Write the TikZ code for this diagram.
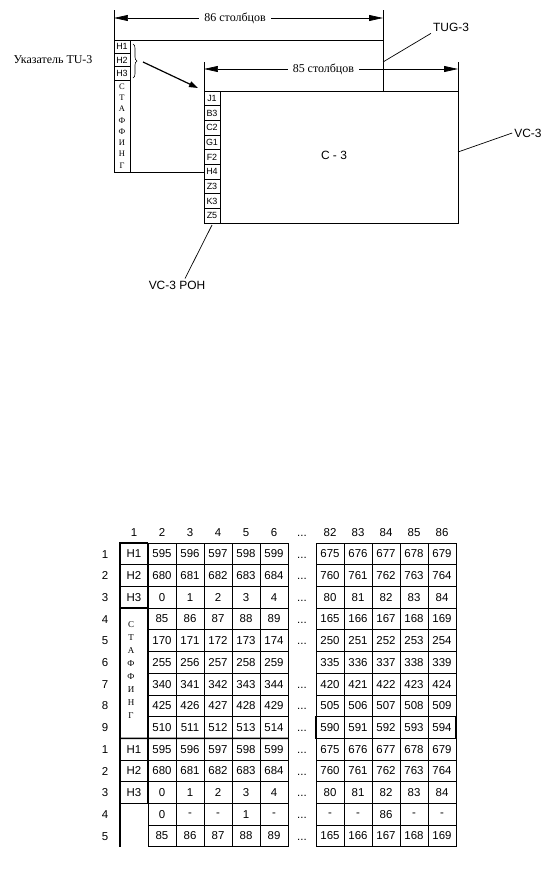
\documentclass[tikz,border=0pt]{standalone}
\usepackage{fontspec}
\setmainfont{Liberation Serif}
\setsansfont{Liberation Sans}
\usetikzlibrary{arrows.meta,positioning,decorations.pathreplacing}
\tikzset{
  boxframe/.style={
    draw,
    line width=0.8pt,
    inner sep=0pt,
    outer sep=0pt
  },
  poh/.style={
    draw,
    line width=0.8pt,
    minimum width=16bp,
    minimum height=14.67bp,
    inner sep=0pt,
    outer sep=0pt,
    font=\sffamily\fontsize{9}{10}\selectfont
  },
  ptr/.style={
    poh,
    minimum height=13.33bp
  },
  caption/.style={
    font=\sffamily\fontsize{12}{14}\selectfont,
    inner sep=2pt
  },
  cyrlabel/.style={
    font=\fontsize{12}{14}\selectfont,
    inner sep=2pt
  },
  stuffing/.style={
    font=\fontsize{8.5}{11.3}\selectfont,
    align=center,
    inner sep=0pt
  },
  dimline/.style={
    {Triangle[length=14pt,width=6pt]}-{Triangle[length=14pt,width=6pt]},
    line width=0.7pt
  },
  extline/.style={line width=0.7pt},
  leaderline/.style={line width=0.7pt},
  arrow/.style={
    -{Triangle[length=9pt,width=6pt]},
    line width=1.2pt
  },
  tcell/.style={
    draw,
    line width=0.7pt,
    minimum width=28bp,
    minimum height=21.7bp,
    inner sep=0pt,
    outer sep=0pt,
    font=\sffamily\fontsize{11.5}{13}\selectfont
  },
  colhead/.style={
    font=\sffamily\fontsize{11.5}{13}\selectfont,
    text height=8.3bp,
    text depth=0bp,
    inner sep=0pt
  },
  thick rule/.style={line width=1.4pt}
}

\begin{document}
\begin{tikzpicture}[x=1bp, y=-1bp]
  \useasboundingbox (0,0) rectangle (552,871);

  % TUG-3 and VC-3 frames
  \node[boxframe, minimum width=269bp, minimum height=132bp] (tugbox) at (248.5,106) {};
  \node[boxframe, fill=white, minimum width=254bp, minimum height=132bp] (vcbox) at (331,157) {};
  \node[caption] (c3) at (334,155) {C - 3};

  % TU-3 pointer + stuffing
  \node[ptr, anchor=north west] (h1) at (tugbox.north west) {H1};
  \node[ptr, below=0pt of h1] (h2) {H2};
  \node[ptr, below=0pt of h2] (h3) {H3};
  \node[ptr, below=0pt of h3, minimum height=92bp] (stuff) {};
  \node[stuffing] (stufftxt) at (stuff) {С\\Т\\А\\Ф\\Ф\\И\\Н\\Г};

  % VC-3 POH column
  \node[poh, anchor=north west] (j1) at (vcbox.north west) {J1};
  \node[poh, below=0pt of j1] (b3) {B3};
  \node[poh, below=0pt of b3] (c2) {C2};
  \node[poh, below=0pt of c2] (g1) {G1};
  \node[poh, below=0pt of g1] (f2) {F2};
  \node[poh, below=0pt of f2] (h4) {H4};
  \node[poh, below=0pt of h4] (z3) {Z3};
  \node[poh, below=0pt of z3] (k3) {K3};
  \node[poh, below=0pt of k3] (z5) {Z5};

  \node[cyrlabel] (tu3) at (53,60) {Указатель TU-3};
  \node[caption] (tug) at (451,27) {TUG-3};
  \node[caption] (vc3) at (528,133) {VC-3};
  \node[caption] (vcpoh) at (177,285) {VC-3 POH};

  % dimensions
  \draw[extline] (tugbox.north west) -- ++(0,-30);
  \draw[extline] (tugbox.north east) -- ++(0,-30);
  \draw[dimline] ([yshift=22bp]tugbox.north west) -- ([yshift=22bp]tugbox.north east)
    node[cyrlabel, pos=0.45, fill=white, inner xsep=5pt] (d86) {86 столбцов};
  \draw[extline] (vcbox.north west) -- ++(0,-29);
  \draw[extline] (vcbox.north east) -- ++(0,-29);
  \draw[dimline] ([yshift=22bp]vcbox.north west) -- ([yshift=22bp]vcbox.north east)
    node[cyrlabel, pos=0.47, fill=white, inner xsep=5pt] (d85) {85 столбцов};

  % brace and pointer arrow
  \draw[decorate, decoration={brace, amplitude=4pt}, line width=0.6pt]
    ([xshift=3bp,yshift=-4bp]h1.north east) -- ([xshift=3bp,yshift=2bp]h3.south east);
  \coordinate (brtip) at (143,62);
  \draw[arrow] (brtip) -- ([xshift=-6bp,yshift=3bp]j1.north west);

  % leaders
  \draw[leaderline] ([yshift=-22bp]tugbox.north east) -- (tug.south west);
  \draw[leaderline] ([yshift=5bp]vcbox.east) -- (vc3.west);
  \draw[leaderline] ([yshift=-2bp]z5.south) -- ([xshift=8bp]vcpoh.north);

  % table: column numbers
  \foreach \h in {1,...,6}
    \node[colhead] (hd\h) at (106+28*\h,532) {\h};
  \node[colhead] (hddots) at (302,532) {...};
  \foreach \h in {82,...,86}
    \node[colhead] (hd\h) at (330+28*\h-2296,532) {\h};

  % table: rows
  \foreach \n/\lab/\vals in {
    1/1/{595,596,597,598,599,675,676,677,678,679},
    2/2/{680,681,682,683,684,760,761,762,763,764},
    3/3/{0,1,2,3,4,80,81,82,83,84},
    4/4/{85,86,87,88,89,165,166,167,168,169},
    5/5/{170,171,172,173,174,250,251,252,253,254},
    6/6/{255,256,257,258,259,335,336,337,338,339},
    7/7/{340,341,342,343,344,420,421,422,423,424},
    8/8/{425,426,427,428,429,505,506,507,508,509},
    9/9/{510,511,512,513,514,590,591,592,593,594},
    10/1/{595,596,597,598,599,675,676,677,678,679},
    11/2/{680,681,682,683,684,760,761,762,763,764},
    12/3/{0,1,2,3,4,80,81,82,83,84},
    13/4/{0,-,-,1,-,-,-,86,-,-},
    14/5/{85,86,87,88,89,165,166,167,168,169}}
  {
    \pgfmathsetmacro\ry{543+21.7*(\n-0.5)}
    \node[colhead] (rl\n) at (105,\ry) {\lab};
    \foreach \v [count=\k] in \vals {
      \pgfmathsetmacro\cx{\k<6 ? 134+28*\k : 162+28*\k}
      \node[tcell] (c\n-\k) at (\cx,\ry) {\v};
    }
  }
  \foreach \n in {1,2,3,4,5,7,8,9,10,11,12,13,14}
    \node[colhead] (dots\n) at (302,543+21.7*\n-10.85) {...};

  % table: column 1
  \foreach \n/\lab in {1/H1,2/H2,3/H3,10/H1,11/H2,12/H3}
    \node[tcell] (p\n) at (134,543+21.7*\n-10.85) {\lab};
  \node[tcell, minimum height=130.2bp] (tstuff) at (134,673.2) {};
  \node[stuffing, font=\fontsize{9}{13}\selectfont] (tstufftxt) at (131,670) {С\\Т\\А\\Ф\\Ф\\И\\Н\\Г};

  \draw[thick rule] (p1.north east) -- (p1.north west) -- (p12.south west) -- ++(0,43.4);
  \draw[thick rule] (p1.north east) -- (p12.south east);
  \draw[thick rule] (p3.south west) -- (p3.south east);
  \draw[thick rule] (p12.south west) -- (p12.south east);
  \draw[thick rule] (tstuff.south west) -- (c9-5.south east);
  \draw[thick rule] (c9-6.north west) rectangle (c9-10.south east);
\end{tikzpicture}
\end{document}
